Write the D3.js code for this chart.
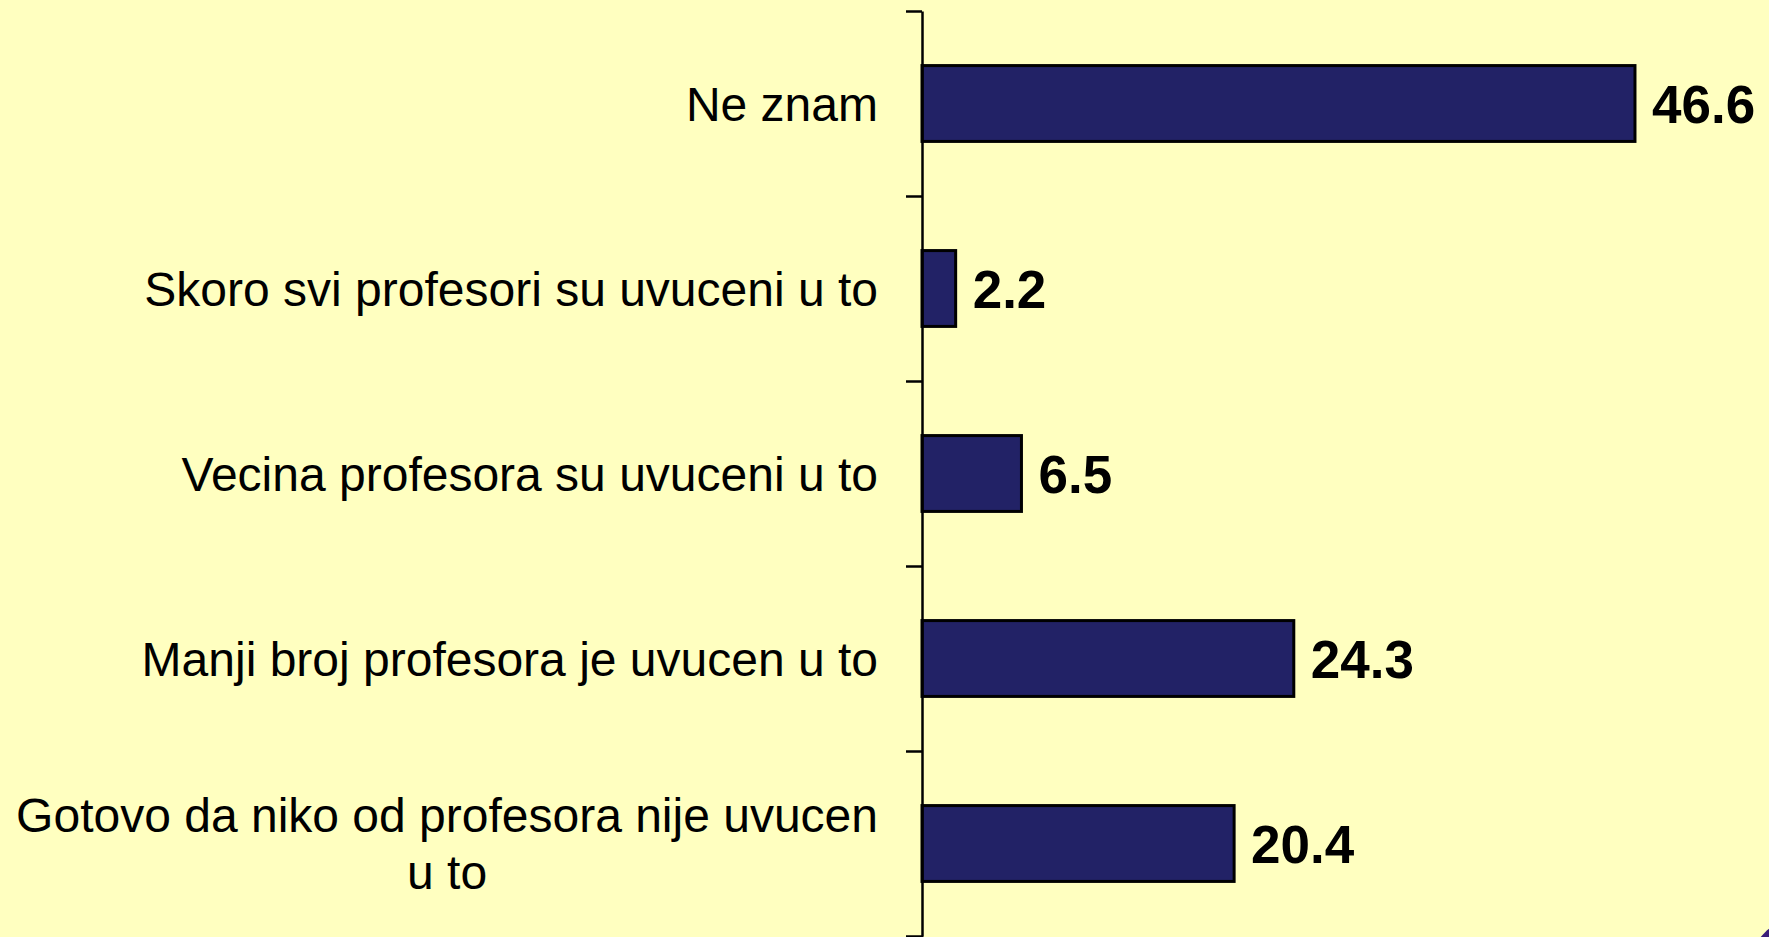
<!DOCTYPE html>
<html>
<head>
<meta charset="utf-8">
<script src="https://cdn.jsdelivr.net/npm/d3@7"></script>
<style>
  html, body { margin: 0; padding: 0; background: #ffffc0; overflow: hidden; }
  svg { display: block; }
</style>
</head>
<body>
<script>
// chart data
var categories = [
  "Ne znam",
  "Skoro svi profesori su uvuceni u to",
  "Vecina profesora su uvuceni u to",
  "Manji broj profesora je uvucen u to",
  "Gotovo da niko od profesora nije uvucen|u to"
];
var values = [46.6, 2.2, 6.5, 24.3, 20.4];

var svgWidth = 1769;
var svgHeight = 937;

var svg = d3.select("body")
  .append("svg")
  .attr("width", svgWidth)
  .attr("height", svgHeight);

svg.append("rect")
  .attr("width", svgWidth)
  .attr("height", svgHeight)
  .attr("fill", "#ffffc0");

var axisX = 922;
var plotTop = 11, plotBottom = 936;

var xScale = d3.scaleLinear().domain([0, 50]).range([axisX, axisX + 765]);
var yScale = d3.scaleBand()
  .domain(categories)
  .range([plotTop, plotBottom])
  .paddingInner(0.59)
  .paddingOuter(0.295);

// boundary ticks
var tickScale = d3.scaleLinear().domain([0, categories.length]).range([plotTop, plotBottom]);
var leftAxis = d3.axisLeft(tickScale)
  .tickValues(d3.range(0, categories.length + 1))
  .tickFormat("")
  .tickSize(16)
  .tickSizeOuter(0);

// bars
svg.selectAll("rect.bar")
  .data(values)
  .enter()
  .append("rect")
  .attr("class", "bar")
  .attr("x", xScale(0))
  .attr("y", function(d, i) { return yScale(categories[i]); })
  .attr("width", function(d) { return xScale(d) - xScale(0); })
  .attr("height", yScale.bandwidth())
  .attr("fill", "#222266")
  .attr("stroke", "#000")
  .attr("stroke-width", 3);

var axisG = svg.append("g")
  .attr("transform", "translate(" + axisX + ",0)")
  .call(leftAxis);
axisG.select(".domain").attr("stroke", "#000").attr("stroke-width", 2.5);
axisG.selectAll(".tick line").attr("stroke", "#000").attr("stroke-width", 2.5);
svg.append("line")
  .attr("x1", axisX).attr("x2", axisX)
  .attr("y1", plotBottom).attr("y2", svgHeight + 5)
  .attr("stroke", "#000").attr("stroke-width", 2.5);

// value labels
svg.selectAll("text.value")
  .data(values)
  .enter()
  .append("text")
  .attr("class", "value")
  .attr("x", function(d) { return xScale(d) + 17; })
  .attr("y", function(d, i) { return yScale(categories[i]) + yScale.bandwidth() / 2; })
  .attr("dy", "0.36em")
  .attr("font-family", "Liberation Sans, Arial, sans-serif")
  .attr("font-weight", "bold")
  .attr("font-size", 53)
  .attr("fill", "#000")
  .text(function(d) { return d.toFixed(1); });

// category labels, wrapped lines centred on the widest one
var labelRight = 878;
var lineH = 57;
categories.forEach(function(c) {
  var lines = c.split("|");
  var cy = yScale(c) + yScale.bandwidth() / 2;
  var t = svg.append("text")
    .attr("font-family", "Liberation Sans, Arial, sans-serif")
    .attr("font-size", 48)
    .attr("fill", "#000")
    .attr("text-anchor", "middle");
  var maxW = 0;
  lines.forEach(function(l, j) {
    var ts = t.append("tspan")
      .attr("x", 0)
      .attr("y", cy + (j - (lines.length - 1) / 2) * lineH)
      .attr("dy", "0.36em")
      .text(l);
    maxW = Math.max(maxW, ts.node().getComputedTextLength());
  });
  t.selectAll("tspan").attr("x", labelRight - maxW / 2);
});

// corner decoration
svg.append("circle")
  .attr("cx", 1800)
  .attr("cy", 968)
  .attr("r", 50)
  .attr("fill", "#3a1d7a");
</script>
</body>
</html>
